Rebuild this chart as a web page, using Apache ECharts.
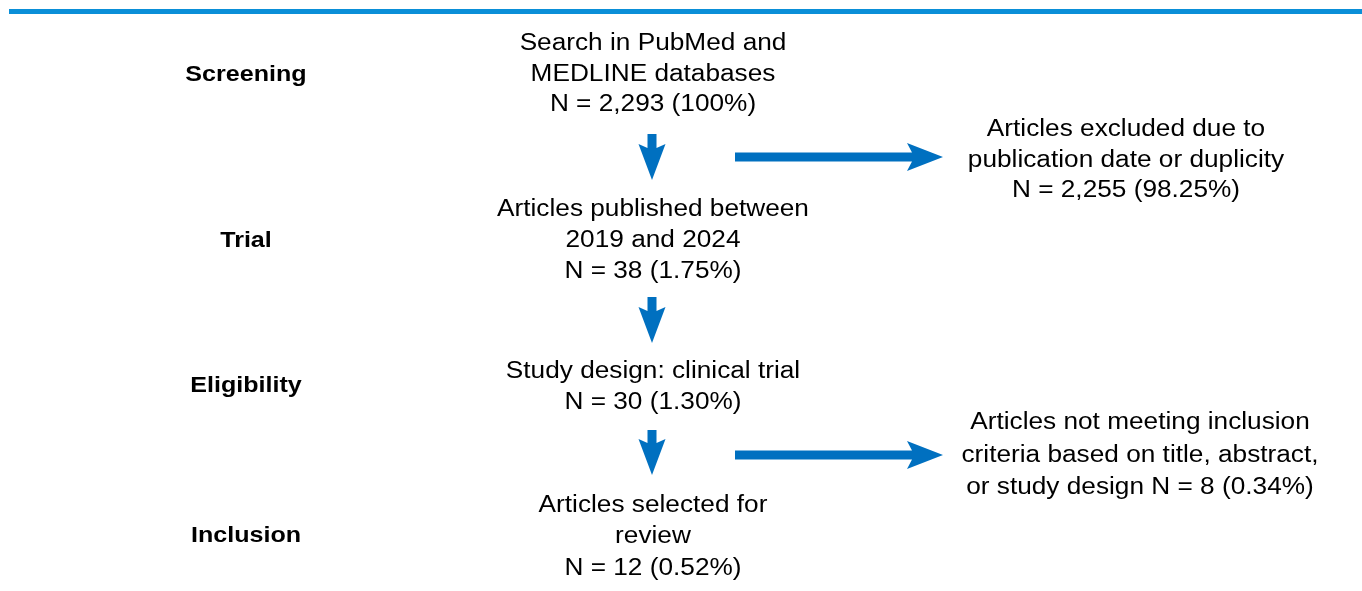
<!DOCTYPE html>
<html>
<head>
<meta charset="utf-8">
<script src="https://cdn.jsdelivr.net/npm/echarts@6/dist/echarts.min.js"></script>
<style>
html,body{margin:0;padding:0;background:#fff;}
#chart{width:1362px;height:591px;}
</style>
</head>
<body>
<div id="chart"></div>
<script>
// ---- data ----
var stageLabels = ['Screening', 'Trial', 'Eligibility', 'Inclusion'];
var mainSteps = [
  ['Search in PubMed and', 'MEDLINE databases'],
  ['Articles published between', '2019 and 2024'],
  ['Study design: clinical trial'],
  ['Articles selected for', 'review']
];
var mainN = [2293, 38, 30, 12];
var mainPct = ['100%', '1.75%', '1.30%', '0.52%'];
var excludedSteps = [
  ['Articles excluded due to', 'publication date or duplicity'],
  ['Articles not meeting inclusion', 'criteria based on title, abstract,', 'or study design']
];
var excludedN = [2255, 8];
var excludedPct = ['98.25%', '0.34%'];
var excludedNInline = [false, true];

// ---- layout (positions & styles) ----
var FONT = '"Liberation Sans", Arial, sans-serif';
var TEXT_SIZE = 23, SCALE_X = 1.14;
var LABEL_SIZE = 22;
var ARROW_COLOR = '#0070c0';
var labelX = 246, labelY = [75, 241, 386, 536];
var mainX = 653, mainFirstY = [44, 209.5, 372, 505.5], mainLineH = [30.2, 31.3, 31, 31.6];
var exclX = [1126, 1140], exclFirstY = [130, 423];
var exclLineH = [30.5, 32.5];
var downArrows = [[134, 180], [297, 343], [430, 475]];
var rightArrowY = [157, 455], rightArrowX = [735, 943];

function fmt(n) { return n.toLocaleString('en-US'); }

var graphics = [];
// top rule
graphics.push({type: 'rect', shape: {x: 9, y: 9, width: 1353, height: 5}, style: {fill: '#0a8fd8'}});

function textEl(str, x, y, size, weight) {
  return {
    type: 'text', x: x, y: y, scaleX: SCALE_X,
    style: {text: str, font: weight + ' ' + size + 'px ' + FONT, fill: '#000', textAlign: 'center', textVerticalAlign: 'middle'}
  };
}

stageLabels.forEach(function (s, i) {
  graphics.push(textEl(s, labelX, labelY[i], LABEL_SIZE, 'bold'));
});

mainSteps.forEach(function (lines, i) {
  var all = lines.concat(['N = ' + fmt(mainN[i]) + ' (' + mainPct[i] + ')']);
  all.forEach(function (l, j) {
    graphics.push(textEl(l, mainX, mainFirstY[i] + j * mainLineH[i], TEXT_SIZE, 'normal'));
  });
});

excludedSteps.forEach(function (lines, i) {
  var nStr = 'N = ' + fmt(excludedN[i]) + ' (' + excludedPct[i] + ')';
  var all = lines.slice();
  if (excludedNInline[i]) all[all.length - 1] += ' ' + nStr; else all.push(nStr);
  all.forEach(function (l, j) {
    graphics.push(textEl(l, exclX[i], exclFirstY[i] + j * exclLineH[i], TEXT_SIZE, 'normal'));
  });
});

function downArrow(cx, y0, y1) {
  var hw = 4.5, HW = 13.5, yt = y1, yb = y1 - 36, yn = y1 - 32;
  return {type: 'polygon', shape: {points: [[cx - hw, y0], [cx + hw, y0], [cx + hw, yn], [cx + HW, yb], [cx, yt], [cx - HW, yb], [cx - hw, yn]]}, style: {fill: ARROW_COLOR}};
}
function rightArrow(cy, x0, x1) {
  var hw = 4.5, HW = 14, xb = x1 - 36, xn = x1 - 31;
  return {type: 'polygon', shape: {points: [[x0, cy - hw], [xn, cy - hw], [xb, cy - HW], [x1, cy], [xb, cy + HW], [xn, cy + hw], [x0, cy + hw]]}, style: {fill: ARROW_COLOR}};
}
downArrows.forEach(function (a) { graphics.push(downArrow(652, a[0], a[1])); });
rightArrowY.forEach(function (y) { graphics.push(rightArrow(y, rightArrowX[0], rightArrowX[1])); });

var chart = echarts.init(document.getElementById('chart'), null, {renderer: 'canvas'});
chart.setOption({
  backgroundColor: '#fff',
  animation: false,
  graphic: {elements: graphics}
});
</script>
</body>
</html>
